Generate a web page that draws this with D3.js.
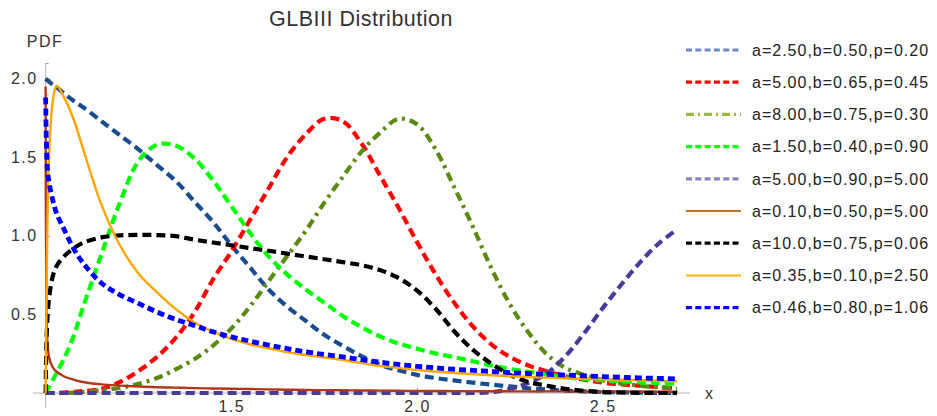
<!DOCTYPE html>
<html>
<head>
<meta charset="utf-8">
<script src="https://cdn.jsdelivr.net/npm/d3@7/dist/d3.min.js"></script>
<style>
  html, body { margin: 0; padding: 0; background: #fff; }
  svg { display: block; font-family: "Liberation Sans", Arial, sans-serif; }
</style>
</head>
<body>
<svg id="chart" width="937" height="416"></svg>
<script>
// Sample points along x (denser near x = 1 where several densities spike)
const xs = [1.0, 1.002, 1.005, 1.01, 1.02, 1.03, 1.05, 1.075, 1.1, 1.15, 1.2, 1.25, 1.3, 1.35, 1.4, 1.45,
  1.5, 1.55, 1.6, 1.65, 1.7, 1.75, 1.8, 1.85, 1.9, 1.95, 2.0, 2.05, 2.1, 2.15, 2.2, 2.25, 2.3, 2.35,
  2.4, 2.45, 2.5, 2.55, 2.6, 2.65, 2.7];

// PDF values for each parameter set
const pdfA250 = [2.0, 1.996, 1.99, 1.98, 1.96, 1.945, 1.905, 1.86, 1.82, 1.73, 1.64, 1.55, 1.45, 1.35, 1.22, 1.09,
  0.94, 0.80, 0.66, 0.55, 0.46, 0.37, 0.30, 0.235, 0.18, 0.145, 0.115, 0.095, 0.08, 0.066, 0.053, 0.042, 0.03, 0.022,
  0.015, 0.01, 0.006, 0.004, 0.002, 0.001, 0.0];
const pdfA500 = [0, 0, 0, 0, 0, 0, 0.003, 0.008, 0.012, 0.025, 0.07, 0.14, 0.23, 0.35, 0.51, 0.72,
  0.90, 1.10, 1.30, 1.50, 1.645, 1.745, 1.73, 1.59, 1.385, 1.18, 0.96, 0.755, 0.575, 0.425, 0.31, 0.23, 0.175, 0.138,
  0.107, 0.084, 0.066, 0.055, 0.046, 0.038, 0.03];
const pdfA800 = [0, 0, 0, 0, 0, 0, 0, 0.002, 0.006, 0.018, 0.032, 0.058, 0.095, 0.15, 0.215, 0.30,
  0.41, 0.55, 0.71, 0.87, 1.03, 1.21, 1.375, 1.535, 1.655, 1.745, 1.71, 1.55, 1.31, 1.06, 0.795, 0.565, 0.385, 0.245,
  0.16, 0.115, 0.082, 0.06, 0.046, 0.036, 0.028];
const pdfA150 = [0, 0.01, 0.02, 0.04, 0.085, 0.13, 0.22, 0.36, 0.54, 0.88, 1.21, 1.475, 1.58, 1.575, 1.495, 1.355,
  1.19, 1.02, 0.87, 0.755, 0.66, 0.575, 0.49, 0.42, 0.36, 0.315, 0.282, 0.252, 0.228, 0.202, 0.175, 0.153, 0.135, 0.118,
  0.10, 0.089, 0.08, 0.074, 0.068, 0.064, 0.06];
const pdfA500p5 = [0, 0, 0, 0, 0, 0, 0, 0, 0, 0, 0, 0, 0, 0, 0, 0,
  0, 0, 0, 0, 0, 0, 0, 0, 0, 0, 0, 0, 0, 0, 0.005, 0.025, 0.065, 0.125,
  0.235, 0.38, 0.54, 0.69, 0.83, 0.95, 1.04];
const pdfA010 = [1.95, 0.6, 0.32, 0.22, 0.16, 0.135, 0.105, 0.085, 0.07, 0.055, 0.047, 0.041, 0.037, 0.034, 0.031, 0.029,
  0.027, 0.025, 0.023, 0.021, 0.019, 0.018, 0.017, 0.016, 0.015, 0.014, 0.013, 0.013, 0.012, 0.012, 0.011, 0.011, 0.010, 0.010,
  0.010, 0.009, 0.009, 0.009, 0.008, 0.008, 0.008];
const pdfA100 = [0, 0.3, 0.48, 0.62, 0.75, 0.81, 0.87, 0.92, 0.955, 0.99, 1.003, 1.006, 1.005, 0.998, 0.976, 0.958,
  0.94, 0.922, 0.905, 0.887, 0.869, 0.851, 0.833, 0.813, 0.782, 0.732, 0.652, 0.536, 0.393, 0.276, 0.187, 0.116, 0.07, 0.046,
  0.026, 0.014, 0.006, 0.003, 0.001, 0, 0];
const pdfA035 = [0, 0.5, 1.1, 1.55, 1.87, 1.955, 1.88, 1.745, 1.56, 1.2, 0.94, 0.76, 0.64, 0.535, 0.45, 0.39,
  0.345, 0.31, 0.285, 0.26, 0.242, 0.226, 0.21, 0.19, 0.172, 0.16, 0.146, 0.136, 0.127, 0.12, 0.113, 0.107, 0.102, 0.098,
  0.094, 0.09, 0.087, 0.084, 0.081, 0.078, 0.075];
const pdfA046 = [1.88, 1.6, 1.42, 1.33, 1.22, 1.14, 1.04, 0.92, 0.83, 0.70, 0.625, 0.57, 0.515, 0.468, 0.43, 0.39,
  0.357, 0.33, 0.305, 0.283, 0.262, 0.245, 0.23, 0.212, 0.196, 0.182, 0.17, 0.16, 0.151, 0.144, 0.137, 0.13, 0.124, 0.119,
  0.114, 0.109, 0.104, 0.1, 0.096, 0.093, 0.09];

const seriesLabels = [
  "a=2.50,b=0.50,p=0.20", "a=5.00,b=0.65,p=0.45", "a=8.00,b=0.75,p=0.30",
  "a=1.50,b=0.40,p=0.90", "a=5.00,b=0.90,p=5.00", "a=0.10,b=0.50,p=5.00",
  "a=10.0,b=0.75,p=0.06", "a=0.35,b=0.10,p=2.50", "a=0.46,b=0.80,p=1.06"
];
const seriesValues = [pdfA250, pdfA500, pdfA800, pdfA150, pdfA500p5, pdfA010, pdfA100, pdfA035, pdfA046];

const yTickValues = [0.5, 1.0, 1.5, 2.0];
const xTickValues = [1.5, 2.0, 2.5];

// Line styles: curve colour, legend swatch colour, widths and dash patterns
const styles = [
  { color: "#1b4d8e", key: "#6b8cc6", width: 4.2, dash: "9,5",        keyDash: "6,3.3" },
  { color: "#ff0000", key: "#ff0000", width: 4.2, dash: "9,5",        keyDash: "6,3.3" },
  { color: "#5a8a12", key: "#9bba3e", width: 4.2, dash: "9,5,3,5",    keyDash: "8,4,2,4" },
  { color: "#00ff00", key: "#00ff00", width: 4.2, dash: "9,5",        keyDash: "6,3.3" },
  { color: "#4a3b98", key: "#8f82c2", width: 4.2, dash: "9,5",        keyDash: "6,3.3" },
  { color: "#b0381a", key: "#c86d28", width: 2.4, dash: null,         keyDash: null },
  { color: "#000000", key: "#000000", width: 4.2, dash: "9,5",        keyDash: "6,3.3" },
  { color: "#ffa500", key: "#ffb300", width: 2.4, dash: null,         keyDash: null },
  { color: "#0000ff", key: "#0000ff", width: 4.8, dash: "7,4",        keyDash: "6,3.3" }
];

const svg = d3.select("#chart");

const x = d3.scaleLinear().domain([0.966, 2.735]).range([33, 690]);
const y = d3.scaleLinear().domain([-0.0955, 2.1]).range([408, 63]);
const xOrigin = x(1);

// Clip region covers the plot range
svg.append("clipPath").attr("id", "plotClip")
  .append("rect")
  .attr("x", x.range()[0]).attr("y", y.range()[1])
  .attr("width", x.range()[1] - x.range()[0])
  .attr("height", y.range()[0] - y.range()[1]);

// Axis lines
const axisColor = "#b3b3b3";
svg.append("line")
  .attr("x1", x.range()[0]).attr("x2", x.range()[1])
  .attr("y1", y(0)).attr("y2", y(0))
  .attr("stroke", axisColor).attr("stroke-width", 1);
svg.append("line")
  .attr("x1", xOrigin).attr("x2", xOrigin)
  .attr("y1", y.range()[0]).attr("y2", y.range()[1])
  .attr("stroke", axisColor).attr("stroke-width", 1);

// Minor ticks every 0.1
const yMinor = d3.range(0, 21.5).map(i => i / 10).filter(v => Math.abs(v * 2 - Math.round(v * 2)) > 1e-6);
const xMinor = d3.range(11, 27.5).map(i => i / 10).filter(v => Math.abs(v * 2 - Math.round(v * 2)) > 1e-6);

const yMinorAxis = svg.append("g").attr("transform", `translate(${xOrigin},0)`)
  .call(d3.axisLeft(y).tickValues(yMinor).tickSize(-3).tickFormat(""));
const xMinorAxis = svg.append("g").attr("transform", `translate(0,${y(0)})`)
  .call(d3.axisBottom(x).tickValues(xMinor).tickSize(-3).tickFormat(""));

const yAxis = svg.append("g").attr("transform", `translate(${xOrigin},0)`)
  .call(d3.axisLeft(y).tickValues(yTickValues).tickSize(-5).tickPadding(8).tickFormat(d3.format(".1f")));
const xAxis = svg.append("g").attr("transform", `translate(0,${y(0)})`)
  .call(d3.axisBottom(x).tickValues(xTickValues).tickSize(-5).tickPadding(8).tickFormat(d3.format(".1f")));

[yMinorAxis, xMinorAxis, yAxis, xAxis].forEach(g => {
  g.select(".domain").remove();
  g.selectAll(".tick line").attr("stroke", "#a0a0a0");
  g.selectAll("text")
    .attr("font-family", "'Liberation Sans', Arial, sans-serif")
    .attr("font-size", 16)
    .attr("letter-spacing", "1.5px")
    .attr("fill", "#333");
});

// Density curves
const line = d3.line()
  .x(d => x(d[0]))
  .y(d => y(d[1]))
  .curve(d3.curveCatmullRom.alpha(0.5));

const plot = svg.append("g").attr("clip-path", "url(#plotClip)");
seriesValues.forEach((vals, i) => {
  const s = styles[i];
  plot.append("path")
    .datum(xs.map((xv, j) => [xv, vals[j]]))
    .attr("d", line)
    .attr("fill", "none")
    .attr("stroke", s.color)
    .attr("stroke-width", s.width)
    .attr("stroke-dasharray", s.dash)
    .attr("stroke-linejoin", "round");
});

// Title and axis labels
svg.append("text")
  .attr("x", 361).attr("y", 26)
  .attr("text-anchor", "middle")
  .attr("font-size", 21.5)
  .attr("letter-spacing", "0.5px")
  .attr("fill", "#333")
  .text("GLBIII Distribution");

svg.append("text")
  .attr("x", 45).attr("y", 47)
  .attr("text-anchor", "middle")
  .attr("font-size", 16)
  .attr("letter-spacing", "1.5px")
  .attr("fill", "#333")
  .text("PDF");

svg.append("text")
  .attr("x", 705).attr("y", 399)
  .attr("font-size", 16)
  .attr("fill", "#333")
  .text("x");

// Legend
const legend = svg.append("g");
seriesLabels.forEach((lab, i) => {
  const s = styles[i];
  const cy = 50 + i * 32.2;
  legend.append("line")
    .attr("x1", 686).attr("x2", 741)
    .attr("y1", cy).attr("y2", cy)
    .attr("stroke", s.key)
    .attr("stroke-width", s.dash ? 3.2 : 2)
    .attr("stroke-dasharray", s.keyDash);
  legend.append("text")
    .attr("x", 752).attr("y", cy)
    .attr("dy", "0.36em")
    .attr("font-size", 16)
    .attr("letter-spacing", "1px")
    .attr("fill", "#222")
    .text(lab);
});
</script>
</body>
</html>
